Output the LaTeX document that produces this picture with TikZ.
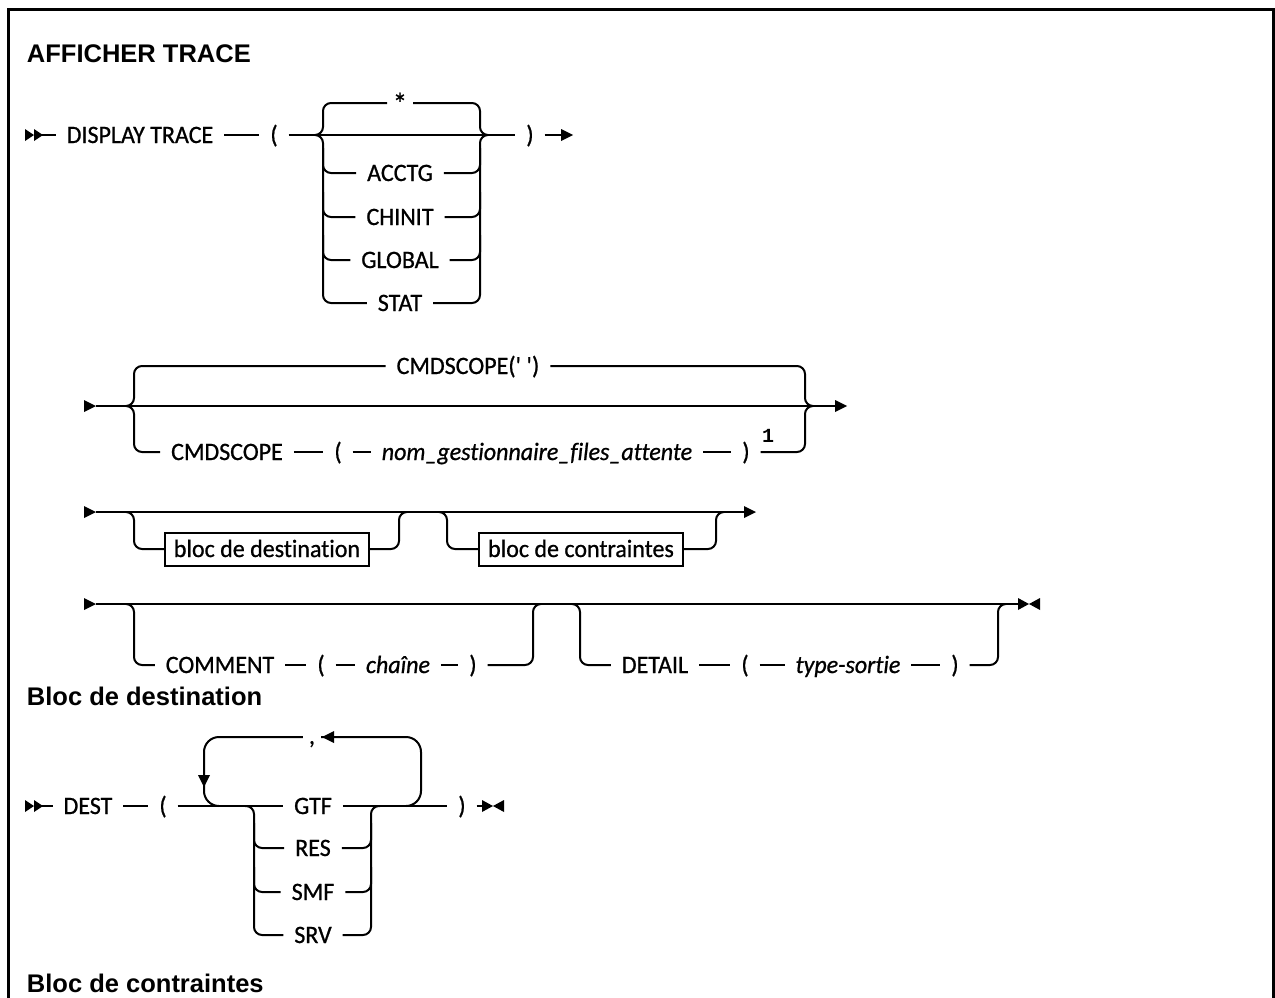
\documentclass[tikz,border=0pt]{standalone}
\usepackage{fontspec}
\setmainfont{Carlito}[FakeBold=0.8,FakeStretch=0.96,Ligatures=NoCommon]
\newfontfamily\headfont{Liberation Sans}
\newfontfamily\supfont{Liberation Mono}
\begin{document}
\begin{tikzpicture}[x=1pt,y=-1pt,line width=2pt,
  lbl/.style={inner xsep=10pt,inner ysep=0pt,text height=16pt,text depth=0pt,font=\fontsize{25}{29}\selectfont},
  ital/.style={lbl,font=\fontsize{25}{29}\selectfont\itshape},
  boxlbl/.style={lbl,draw,inner xsep=9pt,minimum height=33pt},
  head/.style={anchor=base west,inner sep=0pt,font=\headfont\bfseries\fontsize{25.5}{30}\selectfont},
  supl/.style={inner sep=0pt,font=\supfont\bfseries\fontsize{20}{22}\selectfont},
  rc/.style={rounded corners=8pt}]
\useasboundingbox (0,0) rectangle (1275,998);
\clip (0,0) rectangle (1275,998);
\draw[line width=3pt] (8,1010) -- (8,10) -- (1273,10) -- (1273,1010);

% ---------- AFFICHER TRACE ----------
\node[head] (h1) at (26,63) {AFFICHER TRACE};
\fill (25,129)--(34,135)--(25,141)--cycle;
\fill (34,129)--(43,135)--(34,141)--cycle;
\node[lbl] (dt) at (140,135) {DISPLAY TRACE};
\draw (34,135) -- (dt.west);
\node[lbl] (lp1) at (274,135) {(};
\draw (dt.east) -- (lp1.west);
\node[lbl] (rp1) at (530,135) {)};
\draw (lp1.east) -- (rp1.west);
\node[lbl,font=\fontsize{30}{32}\selectfont] (star) at (400,106) {*};
\node[lbl] (acctg) at (400,173) {ACCTG};
\node[lbl] (chinit) at (400,217) {CHINIT};
\node[lbl] (global) at (400,260) {GLOBAL};
\node[lbl] (stat) at (400,303) {STAT};
\draw[rc] (315,135) -| (323,103) -- (387,103);
\draw[rc] (413,103) -| (480,135) -- (488,135);
\draw[rc] (315,135) -| (323,303) -- (stat.west);
\draw[rc] (stat.east) -| (480,135) -- (488,135);
\foreach \n/\y in {acctg/173,chinit/217,global/260}{
  \draw[rc] (323,\y-25) |- (\n.west);
  \draw[rc] (\n.east) -| (480,\y-25);
}
\draw (rp1.east) -- (562,135);
\fill (573,135) -- (561,129) -- (561,141) -- cycle;

% ---------- CMDSCOPE ----------
\fill (84,400)--(96,406)--(84,412)--cycle;
\draw (96,406) -- (836,406);
\fill (847,406)--(835,400)--(835,412)--cycle;
\node[lbl] (cs1) at (468,366) {CMDSCOPE(\textquotesingle\ \textquotesingle)};
\draw[rc] (126,406) -| (134,366) -- (cs1.west);
\draw[rc] (cs1.east) -| (805,406) -- (813,406);
\node[lbl] (cs2) at (227,452) {CMDSCOPE};
\node[lbl] (lp2) at (338,452) {(};
\node[ital] (qm) at (537,452) {nom\_gestionnaire\_files\_attente};
\node[lbl] (rp2) at (746,452) {)};
\node[supl] (n1) at (768,436) {1};
\draw[rc] (126,406) -| (134,452) -- (cs2.west);
\draw (cs2.east) -- (lp2.west);
\draw (lp2.east) -- (qm.west);
\draw (qm.east) -- (rp2.west);
\draw[rc] (rp2.east) -| (805,406) -- (813,406);

% ---------- blocks ----------
\fill (84,506)--(96,512)--(84,518)--cycle;
\draw (96,512) -- (745,512);
\fill (756,512)--(744,506)--(744,518)--cycle;
\node[boxlbl] (b1) at (267,549) {bloc de destination};
\draw[rc] (126,512) -| (134,549) -- (b1.west);
\draw[rc] (b1.east) -| (399,512) -- (407,512);
\node[boxlbl] (b2) at (581,549) {bloc de contraintes};
\draw[rc] (439,512) -| (447,549) -- (b2.west);
\draw[rc] (b2.east) -| (716,512) -- (724,512);

% ---------- COMMENT / DETAIL ----------
\fill (84,598)--(96,604)--(84,610)--cycle;
\draw (96,604) -- (1018,604);
\fill (1018,598)--(1029,604)--(1018,610)--cycle;
\fill (1040,598)--(1029,604)--(1040,610)--cycle;
\node[lbl] (cm) at (220,665) {COMMENT};
\node[lbl] (lp3) at (321,665) {(};
\node[ital] (ch) at (398,665) {chaîne};
\node[lbl] (rp3) at (473,665) {)};
\draw[rc] (126,604) -| (134,665) -- (cm.west);
\draw (cm.east) -- (lp3.west);
\draw (lp3.east) -- (ch.west);
\draw (ch.east) -- (rp3.west);
\draw[rc] (rp3.east) -| (533,604) -- (541,604);
\node[lbl] (de) at (655,665) {DETAIL};
\node[lbl] (lp4) at (745,665) {(};
\node[ital] (ts) at (848,665) {type-sortie};
\node[lbl] (rp4) at (955,665) {)};
\draw[rc] (572,604) -| (580,665) -- (de.west);
\draw (de.east) -- (lp4.west);
\draw (lp4.east) -- (ts.west);
\draw (ts.east) -- (rp4.west);
\draw[rc] (rp4.east) -| (998,604) -- (1006,604);

% ---------- Bloc de destination ----------
\node[head] (h2) at (26,705) {Bloc de destination};
\fill (25,800)--(34,806)--(25,812)--cycle;
\fill (34,800)--(43,806)--(34,812)--cycle;
\node[lbl] (dest) at (88,806) {DEST};
\draw (34,806) -- (dest.west);
\node[lbl] (lp5) at (163,806) {(};
\draw (dest.east) -- (lp5.west);
\node[lbl] (gtf) at (313,806) {GTF};
\node[lbl] (rp5) at (462,806) {)};
\draw (lp5.east) -- (gtf.west);
\draw (gtf.east) -- (rp5.west);
\draw[rounded corners=15pt] (406,806) -| (421,737) -| (204,806) -- (219,806);
\node[lbl,fill=white,inner xsep=6pt] (comma) at (312,736) {,};
\fill (322,737)--(334,731)--(334,743)--cycle;
\fill (204,787)--(198,775)--(210,775)--cycle;
\node[lbl] (res) at (313,848) {RES};
\node[lbl] (smf) at (313,892) {SMF};
\node[lbl] (srv) at (313,935) {SRV};
\draw[rc] (245,806) -| (254,935) -- (srv.west);
\draw[rc] (srv.east) -| (371,806) -- (380,806);
\foreach \n/\y in {res/848,smf/892}{
  \draw[rc] (254,\y-25) |- (\n.west);
  \draw[rc] (\n.east) -| (371,\y-25);
}
\draw (rp5.east) -- (482,806);
\fill (482,800)--(493,806)--(482,812)--cycle;
\fill (504,800)--(493,806)--(504,812)--cycle;

\node[head] (h3) at (26,992) {Bloc de contraintes};
\end{tikzpicture}
\end{document}
